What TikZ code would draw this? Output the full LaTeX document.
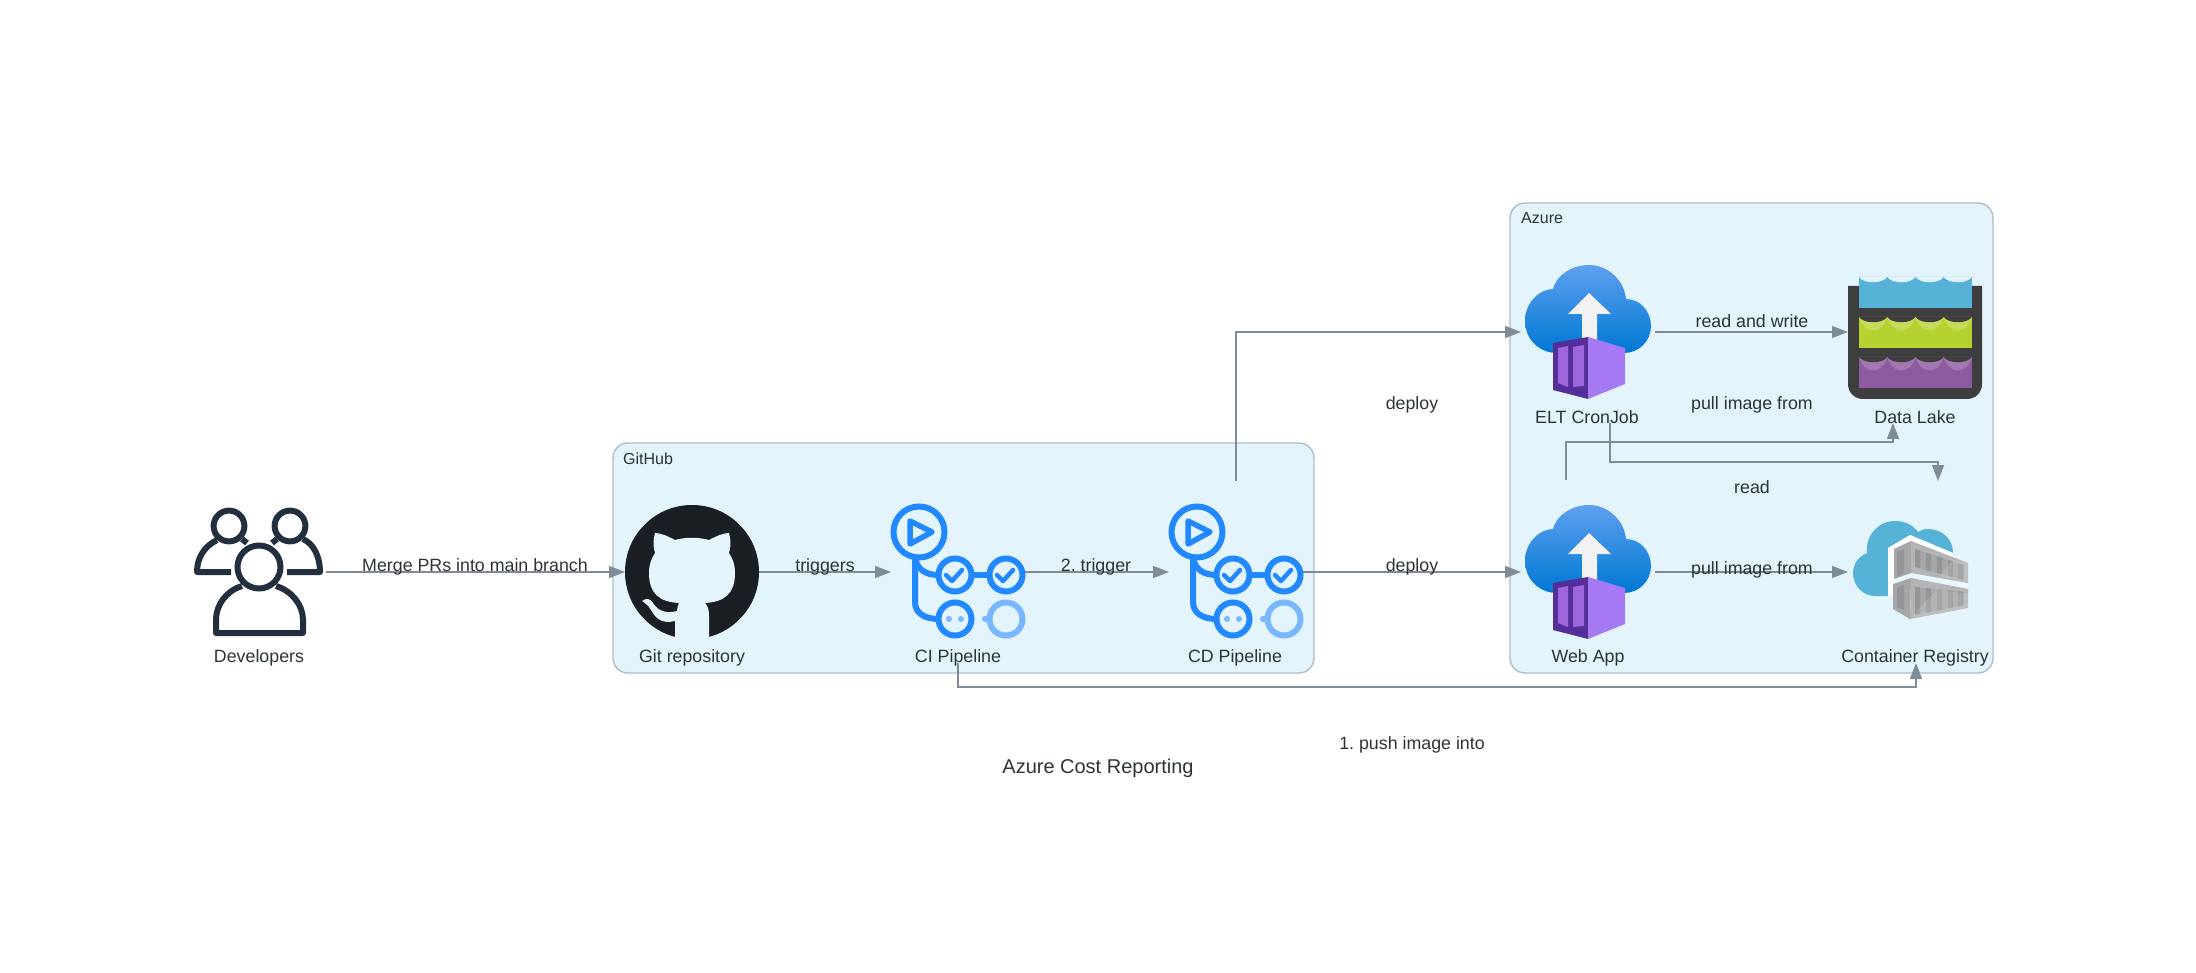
\documentclass[tikz,border=0pt]{standalone}
\usepackage{fontspec}
\setmainfont{Liberation Sans}
\usetikzlibrary{arrows.meta}
\frenchspacing

\definecolor{groupfill}{HTML}{E3F4FD}
\definecolor{groupline}{HTML}{B0BCC7}
\definecolor{edgecolor}{HTML}{7F8B96}
\definecolor{textcolor}{HTML}{2D3436}
\definecolor{devcolor}{HTML}{232F3E}
\definecolor{gitcolor}{HTML}{1B1F23}
\definecolor{pipemain}{HTML}{2188FF}
\definecolor{pipelight}{HTML}{79B8FF}
\definecolor{cloudtop}{HTML}{5EA0EF}
\definecolor{cloudbottom}{HTML}{0078D4}
\definecolor{boxdark}{HTML}{552F99}
\definecolor{boxmid}{HTML}{9F67DC}
\definecolor{boxlight}{HTML}{A67AF4}
\definecolor{arrowwhite}{HTML}{F2F2F2}
\definecolor{laketub}{HTML}{3E3E3E}
\definecolor{lakeblue}{HTML}{57B2D8}
\definecolor{lakegreen}{HTML}{B4D331}
\definecolor{lakegreenlight}{HTML}{C5DB59}
\definecolor{lakepurple}{HTML}{8C5BA0}
\definecolor{lakepurplelight}{HTML}{A378B0}
\definecolor{crateface}{HTML}{B4B4B4}
\definecolor{crateside}{HTML}{A5A6A7}
\definecolor{cratedark}{HTML}{949596}

% one layer of water: top, bottom, water colour, band colour, colour above
\newcommand{\lakewave}[5]{
    \fill[#3] (-56,#1) rectangle (57,#2);
    \foreach \i in {0,1,2,3} {
        \pgfmathsetmacro{\a}{-56+28.25*\i}
        \fill[#4] (\a,#1) .. controls (\a+5,#1+18) and (\a+23,#1+18) .. (\a+28.25,#1) -- cycle;
        \fill[#5] (\a,#1) .. controls (\a+5,#1+7) and (\a+23,#1+7) .. (\a+28.25,#1) -- cycle;
    }
}

\tikzset{
    iconbox/.style={inner sep=0, outer sep=0, minimum size=134pt},
    lbl/.style={inner sep=0, text=textcolor, yshift=-1.5pt},
    grouplbl/.style={inner sep=0, anchor=west, text=textcolor, yshift=-0.7pt, font=\fontsize{16}{19}\selectfont},
    group/.style={draw=groupline, fill=groupfill, line width=1.4pt, rounded corners=15pt},
    flow/.style={draw=edgecolor, line width=1.5pt, -{Triangle[length=16pt, width=12pt]}},
    devicon/.pic={
        \draw[devcolor, line width=6pt] (0,-5) circle (21.5pt);
        \draw[devcolor, line width=6pt] (-30,-46) circle (15.4pt);
        \draw[devcolor, line width=6pt] (31,-46) circle (15.4pt);
        \draw[devcolor, line width=6pt, line join=round] (-17,14) .. controls (-33,19) and (-43,33) .. (-43,48) -- (-43,61) -- (44,61) -- (44,48) .. controls (44,33) and (33,19) .. (17,14);
        \draw[devcolor, line width=6pt, line join=round] (-28,0) -- (-62,0) .. controls (-62,-15) and (-54,-26) .. (-42,-32);
        \draw[devcolor, line width=6pt, line join=round] (28,0) -- (61,0) .. controls (61,-15) and (55,-28) .. (44,-33);
        \draw[devcolor, line width=6pt] (-17,-33) -- (-12,-29);
        \draw[devcolor, line width=6pt] (18,-33) -- (13,-29);
    },
    giticon/.pic={
        \fill[gitcolor] (0,0) circle (67pt);
        \fill[groupfill] (-37,-39) .. controls (-30,-39) and (-23,-35) .. (-17,-32) .. controls (-6,-35) and (6,-35) .. (17,-32) .. controls (23,-35) and (30,-39) .. (37,-39) .. controls (39,-32) and (39,-25) .. (37,-19) .. controls (41,-13) and (43,-7) .. (43,1) .. controls (43,22) and (32,30) .. (13,31) .. controls (16,34) and (17,38) .. (17,44) -- (17,69) -- (-17,69) -- (-17,49) .. controls (-30,52) and (-36,47) .. (-41,38) .. controls (-44,33) and (-47,31) .. (-50,29) .. controls (-46,26) and (-42,26) .. (-39,31) .. controls (-34,39) and (-26,42) .. (-15,39) .. controls (-15,36) and (-14,33) .. (-13,31) .. controls (-32,30) and (-43,22) .. (-43,1) .. controls (-43,-7) and (-41,-13) .. (-37,-19) .. controls (-39,-25) and (-39,-32) .. (-37,-39) -- cycle;
    },
    pipeicon/.pic={
        \draw[pipemain, line width=6pt] (-39,-40) circle (25.5pt);
        \draw[pipemain, line width=5.5pt, line join=round] (-48,-51) -- (-26,-40) -- (-48,-28) -- cycle;
        \draw[pipemain, line width=6pt] (-43,-14) -- (-43,30) .. controls (-43,40) and (-35,47) .. (-19,47);
        \draw[pipemain, line width=6pt] (-43,-14) .. controls (-41,-3) and (-33,3) .. (-19,3);
        \draw[pipemain, line width=6pt] (13,3) -- (32,3);
        \draw[pipemain, line width=6pt] (-3,3) circle (16.5pt);
        \draw[pipemain, line width=6pt] (48,3) circle (16.5pt);
        \draw[pipemain, line width=6pt] (-3,47) circle (16.5pt);
        \draw[pipemain, line width=4.5pt, line cap=round, line join=round] (-12,3) -- (-6,9) -- (4,-2);
        \draw[pipemain, line width=4.5pt, line cap=round, line join=round] (39,3) -- (45,9) -- (55,-2);
        \fill[pipelight] (-9,47) circle (3pt);
        \fill[pipelight] (3,47) circle (3pt);
        \draw[pipelight, line width=6pt] (48,47) circle (16.5pt);
        \draw[pipelight, line width=6pt, line cap=round] (27,47) -- (31,47);
    },
    appicon/.pic={
        \shade[top color=cloudtop, bottom color=cloudbottom] (-31,21) .. controls (-49,21) and (-63,7) .. (-63,-11) .. controls (-63,-29) and (-49,-43) .. (-35,-43) .. controls (-31,-58) and (-15,-67) .. (1,-67) .. controls (20,-67) and (36,-52) .. (38,-33) .. controls (52,-33) and (63,-21) .. (63,-6) .. controls (63,9) and (51,21) .. (36,21) -- cycle;
        \fill[arrowwhite] (1,-39) -- (23,-18) -- (9,-18) -- (9,12) -- (-6,12) -- (-6,-18) -- (-20,-18) -- cycle;
        \fill[boxdark] (-35,11) -- (0,5) -- (0,67) -- (-35,58) -- cycle;
        \fill[boxlight] (0,5) -- (37,16) -- (37,52) -- (0,67) -- cycle;
        \fill[boxmid] (-30,16) -- (-20,14) -- (-20,55) -- (-30,51) -- cycle;
        \fill[boxmid] (-15,15) -- (-4,13) -- (-4,54) -- (-15,55) -- cycle;
    },
    lakeicon/.pic={
        \fill[laketub] (-67,-46) -- (67,-46) -- (67,52) .. controls (67,61) and (60,67) .. (52,67) -- (-52,67) .. controls (-60,67) and (-67,61) .. (-67,52) -- cycle;
        \lakewave{-55}{-24}{lakeblue}{lakeblue}{groupfill}
        \fill[laketub] (-67,-46) rectangle (-56,-24);
        \fill[laketub] (57,-46) rectangle (67,-24);
        \lakewave{-15}{16}{lakegreen}{lakegreenlight}{laketub}
        \lakewave{25}{56}{lakepurple}{lakepurplelight}{laketub}
    },
    regicon/.pic={
        \fill[lakeblue] (-27,24) -- (-40,24) .. controls (-52,24) and (-62,14) .. (-62,1) .. controls (-62,-8) and (-56,-16) .. (-48,-19) .. controls (-50,-36) and (-37,-51) .. (-20,-51) .. controls (-10,-51) and (-2,-47) .. (3,-40) .. controls (6,-42) and (9,-43) .. (13,-43) .. controls (27,-43) and (38,-33) .. (38,-19) -- (-5,-37) -- (-27,-24) -- cycle;
        \fill[white] (-27,24) -- (-27,-24) -- (-5,-37) -- (38,-19) -- (38,-15) -- (-4,-31) -- (-21,-23) -- (-21,24) -- cycle;
        \fill[white!20!groupfill] (-21,7) -- (-4,1) -- (53,11) -- (53,17) -- (-4,6) -- (-21,12) -- cycle;
        % upper crate
        \fill[crateside] (-21,-23) -- (-4,-31) -- (-4,1) -- (-21,7) -- cycle;
        \fill[crateface] (-4,-31) -- (53,-9) -- (53,11) -- (-4,1) -- cycle;
        \fill[cratedark] (-18,-20) -- (-11,-23) -- (-11,1) -- (-18,5) -- cycle;
        \fill[crateside] (0,-23) -- (49,-7) -- (49,8) -- (0,-5) -- cycle;
        \foreach \s in {0,11,22,33,43} {
            \fill[cratedark] (\s,-23+0.33*\s) -- (\s+5,-21.4+0.33*\s) -- (\s+5,-3.7+0.27*\s) -- (\s,-5+0.27*\s) -- cycle;
        }
        \fill[white, opacity=0.15] (25,4) -- (38,-12) -- (53,-9) -- (53,11) -- cycle;
        % lower crate
        \fill[crateside] (-22,12) -- (-4,6) -- (-5,47) -- (-22,37) -- cycle;
        \fill[crateface] (-4,6) -- (53,17) -- (53,36) -- (-5,47) -- cycle;
        \fill[cratedark] (-18,15) -- (-11,13) -- (-11,38) -- (-18,35) -- cycle;
        \fill[crateside] (0,15) -- (49,20) -- (49,33) -- (0,43) -- cycle;
        \foreach \s in {0,11,22,33,43} {
            \fill[cratedark] (\s,15+0.1*\s) -- (\s+5,15.5+0.1*\s) -- (\s+5,42-0.2*\s) -- (\s,43-0.2*\s) -- cycle;
        }
        \fill[white, opacity=0.15] (-4,46) -- (22,17) -- (53,22) -- (53,36) -- cycle;
    },
}

\begin{document}
\begin{tikzpicture}[x=1pt, y=-1pt, font=\fontsize{17.8}{21}\selectfont]
    \useasboundingbox (0,0) rectangle (2196,973);

    \draw[group] (613,443) rectangle (1314,673);
    \draw[group] (1510,203) rectangle (1993,673);
    \node[grouplbl] (githublabel) at (623,458) {GitHub};
    \node[grouplbl] (azurelabel) at (1521,217) {Azure};

    \node[iconbox] (dev) at (259,572) {};
    \node[iconbox] (git) at (692,572) {};
    \node[iconbox] (ci) at (958,572) {};
    \node[iconbox] (cd) at (1236,572) {};
    \node[iconbox] (elt) at (1588,332) {};
    \node[iconbox] (lake) at (1915,332) {};
    \node[iconbox] (web) at (1588,572) {};
    \node[iconbox] (reg) at (1915,572) {};

    \coordinate (cdout) at (1236,481);
    \coordinate (webout) at (1566,480);
    \coordinate (lakein) at (1893,423);
    \coordinate (eltout) at (1610,423);
    \coordinate (regtop) at (1938,481);
    \coordinate (ciout) at (958,663);
    \coordinate (regbottom) at (1916,663);

    \draw[flow] (dev) -- (git);
    \draw[flow] (git) -- (ci);
    \draw[flow] (ci) -- (cd);
    \draw[flow] (cd) -- (web);
    \draw[flow] (cdout) |- (elt);
    \draw[flow] (elt) -- (lake);
    \draw[flow] (web) -- (reg);
    \draw[flow] (webout) -- ++(0,-38) -| (lakein);
    \draw[flow] (eltout) -- ++(0,39) -| (regtop);
    \draw[flow] (ciout) -- ++(0,24) -| (regbottom);

    \pic at (dev) {devicon};
    \pic at (git) {giticon};
    \pic at (ci) {pipeicon};
    \pic at (cd) {pipeicon};
    \pic at (elt) {appicon};
    \pic at (lake) {lakeicon};
    \pic at (web) {appicon};
    \pic at (reg) {regicon};

    \node[lbl] (devlabel) at (259,656) {Developers};
    \node[lbl] (gitlabel) at (692,656) {Git repository};
    \node[lbl] (cilabel) at (958,656) {CI Pipeline};
    \node[lbl] (cdlabel) at (1235,656) {CD Pipeline};
    \node[lbl] (eltlabel) at (1587,416) {ELT CronJob};
    \node[lbl] (lakelabel) at (1915,416) {Data Lake};
    \node[lbl] (weblabel) at (1588,656) {Web App};
    \node[lbl] (reglabel) at (1915,656) {Container Registry};

    \node[lbl] (mergelabel) at (475,565) {Merge PRs into main branch};
    \node[lbl] (triggerslabel) at (825,565) {triggers};
    \node[lbl] (triggerlabel) at (1096,565) {2. trigger};
    \node[lbl] (deploylabel) at (1412,565) {deploy};
    \node[lbl] (deploytoplabel) at (1412,403) {deploy};
    \node[lbl] (rwlabel) at (1752,320) {read and write};
    \node[lbl] (pulltoplabel) at (1752,403) {pull image from};
    \node[lbl] (readlabel) at (1752,486) {read};
    \node[lbl] (pulllabel) at (1752,568) {pull image from};
    \node[lbl] (pushlabel) at (1412,743) {1. push image into};

    \node[lbl, font=\fontsize{20}{24}\selectfont] (titlelabel) at (1098,767) {Azure Cost Reporting};
\end{tikzpicture}
\end{document}
